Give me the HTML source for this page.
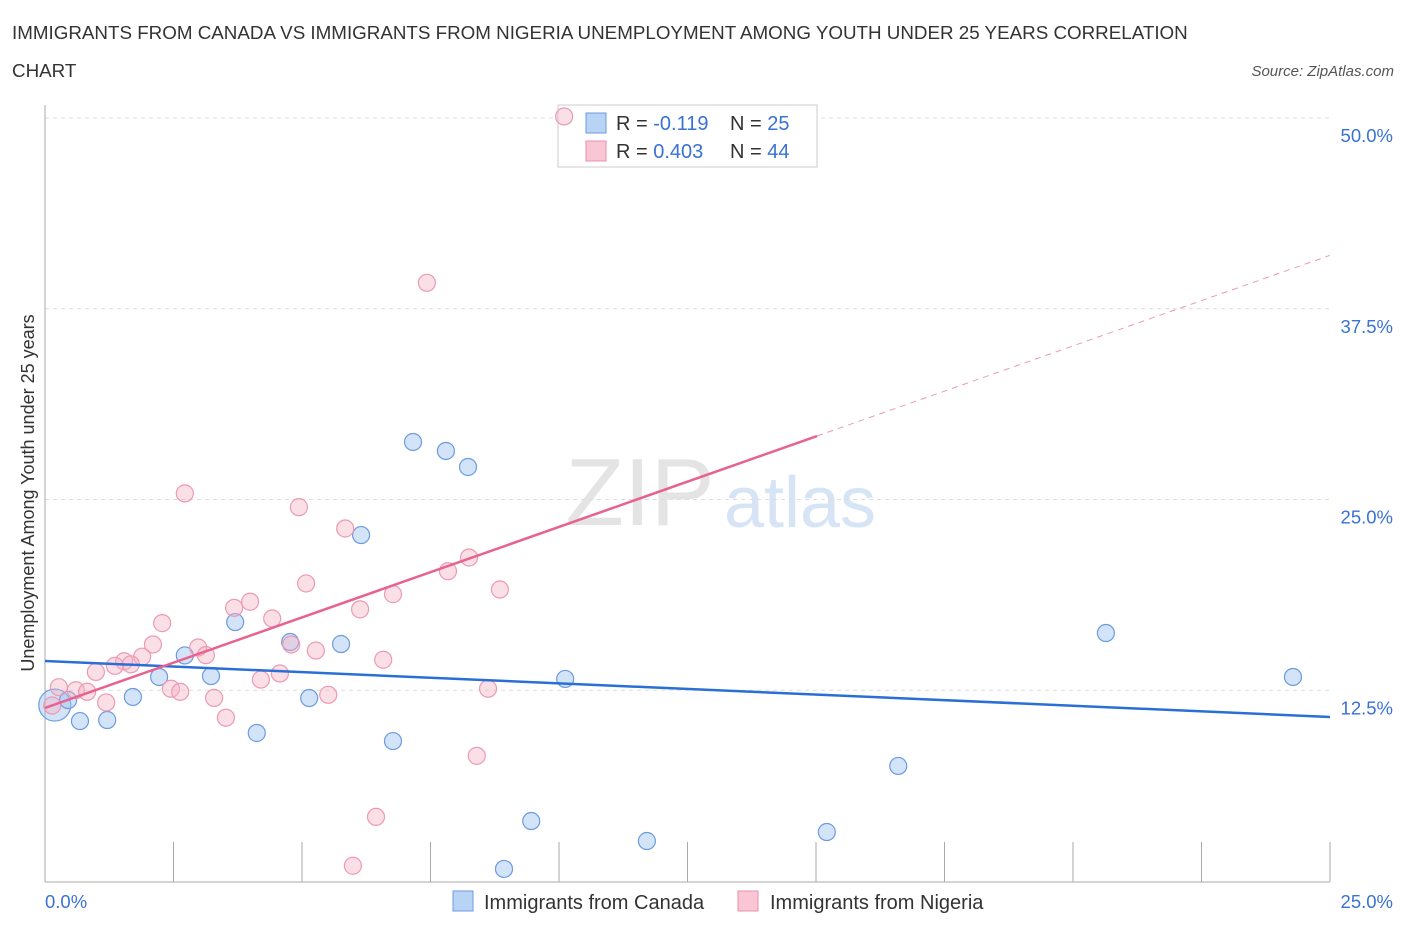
<!DOCTYPE html>
<html><head><meta charset="utf-8"><style>
body{margin:0;background:#fff;font-family:"Liberation Sans",sans-serif;}
svg text{font-family:"Liberation Sans",sans-serif;}
</style></head><body>
<svg width="1406" height="930" xmlns="http://www.w3.org/2000/svg">
<text x="12" y="39" font-size="18.8" fill="#333">IMMIGRANTS FROM CANADA VS IMMIGRANTS FROM NIGERIA UNEMPLOYMENT AMONG YOUTH UNDER 25 YEARS CORRELATION</text>
<text x="12" y="77" font-size="18.8" fill="#333">CHART</text>
<text x="1394" y="76" font-size="15" font-style="italic" fill="#555" text-anchor="end">Source: ZipAtlas.com</text>
<text x="640" y="525" font-size="96" font-family="Liberation Serif" fill="#e4e4e4" text-anchor="middle">ZIP</text>
<text x="800" y="527" font-size="72" fill="#d6e4f5" text-anchor="middle">atlas</text>
<g id="grid"></g>
<g id="axes"></g>
<g>
<rect x="558" y="105" width="259" height="62" fill="#fff" stroke="#ccc"/>
<rect x="586" y="113" width="20" height="20" fill="#b9d3f5" stroke="#6a9be0"/>
<rect x="586" y="141" width="20" height="20" fill="#f8c6d4" stroke="#e890aa"/>
<text x="616" y="130" font-size="20" fill="#333">R = <tspan fill="#3a72d4">-0.119</tspan></text>
<text x="730" y="130" font-size="20" fill="#333">N = <tspan fill="#3a72d4">25</tspan></text>
<text x="616" y="158" font-size="20" fill="#333">R = <tspan fill="#3a72d4">0.403</tspan></text>
<text x="730" y="158" font-size="20" fill="#333">N = <tspan fill="#3a72d4">44</tspan></text>
</g>
<g id="marks"></g>
<text x="34" y="493" font-size="18" fill="#333" text-anchor="middle" transform="rotate(-90 34 493)">Unemployment Among Youth under 25 years</text>
<g>
<rect x="453" y="891" width="20" height="20" fill="#b9d3f5" stroke="#6a9be0"/>
<text x="484" y="909" font-size="20" fill="#333">Immigrants from Canada</text>
<rect x="738" y="891" width="20" height="20" fill="#f8c6d4" stroke="#e890aa"/>
<text x="770" y="909" font-size="20" fill="#333">Immigrants from Nigeria</text>
</g>
</svg>
<script>
const yTicks=[12.5,25,37.5,50];
const yTickLabels=["12.5%","25.0%","37.5%","50.0%"];
const xLabels=["0.0%","25.0%"];
const canadaX=[0.19,0.45,0.68,1.21,1.71,2.22,2.72,3.23,3.70,4.12,4.77,5.14,5.76,6.15,6.77,7.16,7.80,8.23,9.46,8.93,10.12,11.71,15.21,16.60,20.64,24.28];
const canadaY=[11.53,11.86,10.48,10.55,12.06,13.37,14.78,13.43,16.97,9.70,15.66,11.99,15.53,22.67,9.17,28.77,28.18,27.13,3.93,0.79,13.24,2.62,3.21,7.54,16.25,13.37];
const nigeriaX=[10.10,7.43,2.72,4.94,5.84,8.25,7.84,5.08,8.85,6.77,3.99,3.68,6.13,4.42,2.28,2.10,2.98,4.79,5.27,3.13,1.89,1.54,1.67,1.36,0.99,6.58,4.57,4.20,2.45,2.63,0.60,0.82,0.27,8.62,5.51,3.29,1.19,0.14,3.52,8.40,6.44,5.99];
const nigeriaY=[50.1,39.2,25.4,24.5,23.1,21.2,20.3,19.5,19.1,18.8,18.3,17.9,17.8,17.2,16.9,15.5,15.3,15.5,15.1,14.8,14.7,14.4,14.2,14.1,13.7,14.5,13.6,13.2,12.6,12.4,12.5,12.4,12.7,12.6,12.2,12.0,11.7,11.5,10.7,8.2,4.2,1.0];
const canadaTrend=[14.42,10.75];
const nigeriaTrend=[11.34,41.0];
const nigeriaSolidEnd=15.02;
const NS="http://www.w3.org/2000/svg";
const sx=v=>45+v*51.4, sy=v=>881-v*15.26;
function mk(tag,attrs,parent){const e=document.createElementNS(NS,tag);for(const k in attrs)e.setAttribute(k,attrs[k]);document.getElementById(parent).appendChild(e);return e;}
yTicks.forEach((t,i)=>{
 const g=mk('line',{x1:45,x2:1330,y1:sy(t),y2:sy(t),stroke:'#ddd','stroke-dasharray':'4,4'},'grid');
 
 
 const l=mk('text',{x:1393,y:sy(t)+24,'font-size':18.5,fill:'#3a72d4','text-anchor':'end'},'axes');
 l.textContent=yTickLabels[i];
 
 
});
const ax=mk('line',{x1:45,x2:45,y1:105,y2:882,stroke:'#aaa'},'axes');


const bx=mk('line',{x1:45,x2:1330,y1:882,y2:882,stroke:'#aaa'},'axes');


for(let i=1;i<=10;i++){const t=mk('line',{x1:sx(i*2.5),x2:sx(i*2.5),y1:842,y2:882,stroke:'#aaa'},'axes');
 
 }
[[0,'start',45],[1,'end',1393]].forEach(([i,a,x])=>{const t=mk('text',{x:x,y:908,'font-size':18.5,fill:'#3a72d4','text-anchor':a},'axes');t.textContent=xLabels[i];
 
 });
canadaX.forEach((x,i)=>{const c=mk('circle',{cx:sx(x),cy:sy(canadaY[i]),r:i==0?16:8.5,fill:'rgba(160,195,240,0.45)',stroke:'#6a9be0','stroke-width':1.2},'marks');
 
 });
nigeriaX.forEach((x,i)=>{const c=mk('circle',{cx:sx(x),cy:sy(nigeriaY[i]),r:8.5,fill:'rgba(245,175,195,0.4)',stroke:'#eb9ab2','stroke-width':1.2},'marks');
 
 });
const ct=mk('line',{x1:sx(0),y1:sy(canadaTrend[0]),x2:sx(25),y2:sy(canadaTrend[1]),stroke:'#2a6fd6','stroke-width':2.5},'marks');


const ny=x=>nigeriaTrend[0]+(nigeriaTrend[1]-nigeriaTrend[0])*x/25;
const nt=mk('line',{x1:sx(0),y1:sy(ny(0)),x2:sx(nigeriaSolidEnd),y2:sy(ny(nigeriaSolidEnd)),stroke:'#e8628f','stroke-width':2.5},'marks');


const nd=mk('line',{x1:sx(nigeriaSolidEnd),y1:sy(ny(nigeriaSolidEnd)),x2:sx(25),y2:sy(ny(25)),stroke:'#eb9ab2','stroke-width':1,'stroke-dasharray':'6,5'},'marks');


</script>
</body></html>
